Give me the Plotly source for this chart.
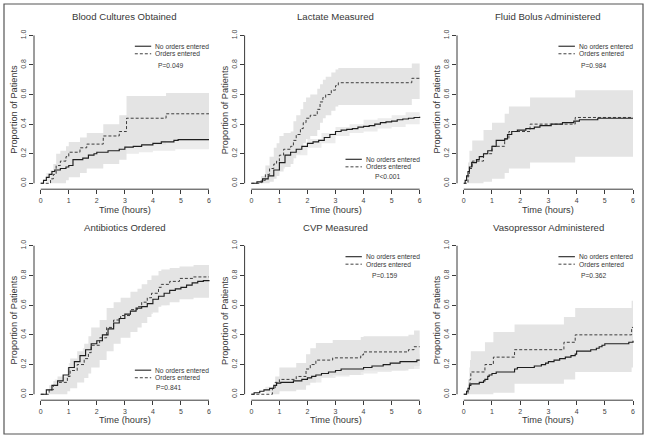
import plotly.graph_objects as go

# ---------------- data ----------------
titles = ["Blood Cultures Obtained", "Lactate Measured", "Fluid Bolus Administered",
          "Antibiotics Ordered", "CVP Measured", "Vasopressor Administered"]
p_values = ["P=0.049", "P<0.001", "P=0.984", "P=0.841", "P=0.159", "P=0.362"]
legend_pos = ["top", "bottom", "top", "bottom", "top", "top"]
x_ticks = [0, 1, 2, 3, 4, 5, 6]
y_ticks = [0.0, 0.2, 0.4, 0.6, 0.8, 1.0]
y_tick_labels = ["0.0", "0.2", "0.4", "0.6", "0.8", "1.0"]
series_names = ["No orders entered", "Orders entered"]

# Blood cultures
bc_t_no = [0, 0.1, 0.2, 0.3, 0.4, 0.5, 0.7, 0.9, 1.0, 1.15, 1.5, 1.7, 1.9, 2.0, 2.4, 2.8, 3.0, 3.3, 3.6, 4.0, 4.3, 4.75, 4.9, 6.0]
bc_y_no = [0, 0.02, 0.04, 0.06, 0.08, 0.09, 0.10, 0.11, 0.12, 0.16, 0.17, 0.19, 0.20, 0.21, 0.22, 0.23, 0.245, 0.25, 0.26, 0.27, 0.28, 0.29, 0.295, 0.295]
bc_t_or = [0, 0.3, 0.35, 0.45, 0.55, 0.7, 0.9, 1.0, 1.4, 1.64, 2.23, 2.8, 3.06, 4.47, 6.0]
bc_y_or = [0, 0, 0.03, 0.06, 0.12, 0.15, 0.18, 0.21, 0.24, 0.265, 0.32, 0.35, 0.44, 0.47, 0.47]
bc_or_hi = [0, 0, 0.09, 0.13, 0.20, 0.22, 0.25, 0.28, 0.31, 0.34, 0.40, 0.46, 0.59, 0.61, 0.61]
bc_or_lo = [0, 0, 0, 0, 0.0, 0.0, 0.02, 0.04, 0.07, 0.10, 0.13, 0.16, 0.26, 0.29, 0.29]
bc_band_no_t = [0, 0.2, 0.5, 1.0, 1.15, 1.5, 2.0, 2.5, 3.0, 3.5, 4.0, 4.8, 6.0]
bc_no_hi = [0, 0.07, 0.13, 0.16, 0.21, 0.22, 0.26, 0.27, 0.29, 0.30, 0.31, 0.34, 0.34]
bc_no_lo = [0, 0.01, 0.05, 0.07, 0.11, 0.12, 0.16, 0.18, 0.20, 0.21, 0.22, 0.23, 0.23]

# Lactate
lac_t_no = [0, 0.2, 0.4, 0.6, 0.8, 1.0, 1.2, 1.4, 1.6, 1.8, 2.0, 2.2, 2.4, 2.6, 2.8, 3.0, 3.2, 3.4, 3.6, 3.8, 4.0,
            4.2, 4.4, 4.6, 4.8, 5.0, 5.2, 5.4, 5.6, 5.8, 6.0]
lac_y_no = [0, 0.01, 0.03, 0.05, 0.09, 0.14, 0.19, 0.21, 0.23, 0.25, 0.27, 0.28, 0.29, 0.31, 0.33, 0.35, 0.36, 0.365,
            0.37, 0.38, 0.385, 0.39, 0.40, 0.41, 0.415, 0.42, 0.43, 0.435, 0.44, 0.445, 0.45]
lac_t_or = [0, 0.3, 0.35, 0.5, 0.65, 0.8, 0.9, 1.0, 1.15, 1.4, 1.5, 1.6, 1.75, 1.85, 1.95, 2.1, 2.35, 2.45, 2.55, 2.65, 2.85, 3.0, 3.1, 5.72, 6.0]
lac_y_or = [0, 0, 0.02, 0.06, 0.10, 0.13, 0.15, 0.19, 0.23, 0.25, 0.29, 0.33, 0.37, 0.41, 0.44, 0.46, 0.50, 0.55, 0.58, 0.60, 0.63, 0.66, 0.68, 0.71, 0.71]
lac_or_hi = [0, 0, 0.05, 0.12, 0.18, 0.24, 0.27, 0.32, 0.34, 0.35, 0.42, 0.46, 0.50, 0.55, 0.58, 0.60, 0.64, 0.67, 0.70, 0.72, 0.75, 0.77, 0.78, 0.81, 0.81]
lac_or_lo = [0, 0, 0, 0, 0.01, 0.03, 0.05, 0.08, 0.11, 0.13, 0.17, 0.20, 0.24, 0.27, 0.30, 0.32, 0.36, 0.41, 0.44, 0.46, 0.49, 0.52, 0.53, 0.57, 0.57]
lac_band_no_t = [0, 0.4, 0.6, 0.8, 1.0, 1.2, 1.5, 2.0, 2.5, 3.0, 3.5, 4.0, 4.5, 5.0, 5.5, 6.0]
lac_no_hi = [0, 0.05, 0.08, 0.12, 0.18, 0.22, 0.25, 0.30, 0.34, 0.38, 0.40, 0.43, 0.44, 0.46, 0.48, 0.49]
lac_no_lo = [0, 0.02, 0.03, 0.06, 0.10, 0.15, 0.19, 0.24, 0.27, 0.32, 0.34, 0.35, 0.37, 0.38, 0.40, 0.41]

# Fluid bolus
fb_t_no = [0, 0.05, 0.1, 0.15, 0.2, 0.28, 0.45, 0.55, 0.7, 0.85, 1.0, 1.15, 1.45, 1.55, 1.7, 1.9, 2.2, 2.5, 2.7, 3.1, 3.5, 3.9, 4.1, 4.75, 6.0]
fb_y_no = [0, 0.02, 0.05, 0.08, 0.11, 0.14, 0.16, 0.18, 0.20, 0.22, 0.25, 0.29, 0.30, 0.33, 0.35, 0.36, 0.37, 0.38, 0.39, 0.40, 0.41, 0.42, 0.43, 0.44, 0.44]
fb_t_or = [0, 0.1, 0.15, 0.2, 0.3, 0.7, 1.0, 1.45, 1.6, 2.35, 3.95, 6.0]
fb_y_or = [0, 0, 0.05, 0.10, 0.15, 0.20, 0.25, 0.30, 0.35, 0.40, 0.445, 0.445]
fb_or_hi = [0, 0, 0.14, 0.22, 0.29, 0.36, 0.41, 0.47, 0.52, 0.58, 0.63, 0.63]
fb_or_lo = [0, 0, 0, 0, 0, 0.01, 0.03, 0.07, 0.10, 0.14, 0.18, 0.18]
fb_band_no_t = [0, 0.1, 0.2, 0.3, 0.5, 0.7, 1.0, 1.2, 1.5, 2.0, 3.0, 4.0, 4.75, 6.0]
fb_no_hi = [0, 0.04, 0.14, 0.18, 0.21, 0.24, 0.29, 0.33, 0.36, 0.40, 0.44, 0.46, 0.48, 0.48]
fb_no_lo = [0, 0.005, 0.07, 0.10, 0.12, 0.15, 0.20, 0.25, 0.27, 0.32, 0.35, 0.37, 0.39, 0.39]

# Antibiotics
ab_t_no = [0, 0.2, 0.4, 0.6, 0.8, 1.0, 1.2, 1.4, 1.6, 1.8, 2.0, 2.2, 2.4, 2.6, 2.8, 3.0, 3.2, 3.4, 3.6, 3.8, 4.0,
           4.2, 4.4, 4.6, 4.8, 5.0, 5.2, 5.4, 5.6, 5.8, 6.0]
ab_y_no = [0, 0.03, 0.06, 0.09, 0.13, 0.18, 0.22, 0.26, 0.30, 0.34, 0.36, 0.40, 0.44, 0.48, 0.51, 0.54, 0.56, 0.58,
           0.59, 0.61, 0.64, 0.66, 0.68, 0.70, 0.71, 0.72, 0.735, 0.75, 0.76, 0.765, 0.77]
ab_t_or = [0, 0.15, 0.3, 0.45, 0.6, 0.95, 1.05, 1.3, 1.55, 1.7, 1.8, 2.1, 2.35, 2.6, 2.85, 3.2, 3.45, 3.6, 3.8, 3.95, 4.2, 4.3, 4.6, 4.95, 5.45, 6.0]
ab_y_or = [0, 0, 0.03, 0.06, 0.08, 0.12, 0.16, 0.20, 0.24, 0.28, 0.33, 0.38, 0.45, 0.50, 0.53, 0.57, 0.59, 0.62, 0.65, 0.68, 0.72, 0.74, 0.76, 0.78, 0.79, 0.79]
ab_or_hi = [0, 0, 0.06, 0.09, 0.12, 0.18, 0.24, 0.29, 0.34, 0.39, 0.45, 0.50, 0.58, 0.62, 0.65, 0.69, 0.71, 0.74, 0.77, 0.80, 0.83, 0.84, 0.85, 0.86, 0.87, 0.87]
ab_or_lo = [0, 0, 0, 0, 0, 0.02, 0.04, 0.08, 0.11, 0.14, 0.18, 0.23, 0.29, 0.34, 0.38, 0.42, 0.45, 0.48, 0.52, 0.55, 0.59, 0.60, 0.62, 0.64, 0.65, 0.65]
ab_band_no_t = [0, 0.5, 1.0, 1.5, 2.0, 2.5, 3.0, 3.5, 4.0, 4.5, 5.0, 5.5, 6.0]
ab_no_hi = [0, 0.10, 0.21, 0.31, 0.40, 0.50, 0.58, 0.62, 0.68, 0.73, 0.76, 0.80, 0.81]
ab_no_lo = [0, 0.06, 0.15, 0.25, 0.32, 0.42, 0.50, 0.54, 0.60, 0.65, 0.68, 0.72, 0.73]

# CVP
cvp_t_no = [0, 0.1, 0.3, 0.45, 0.65, 0.8, 0.9, 1.05, 1.5, 1.8, 2.0, 2.15, 2.3, 2.5, 2.75, 3.0, 3.2, 4.0, 4.3, 4.7, 4.95, 5.3, 5.9, 6.0]
cvp_y_no = [0, 0.01, 0.02, 0.03, 0.04, 0.06, 0.075, 0.08, 0.09, 0.10, 0.11, 0.12, 0.13, 0.14, 0.15, 0.16, 0.17, 0.18, 0.19, 0.20, 0.21, 0.22, 0.23, 0.23]
cvp_t_or = [0, 0.75, 0.85, 1.0, 1.6, 1.95, 2.1, 2.3, 2.9, 3.9, 4.0, 5.6, 5.8, 6.0]
cvp_y_or = [0, 0.04, 0.08, 0.10, 0.12, 0.17, 0.20, 0.23, 0.245, 0.265, 0.285, 0.30, 0.32, 0.32]
cvp_or_hi = [0, 0.05, 0.12, 0.18, 0.21, 0.27, 0.31, 0.345, 0.365, 0.385, 0.39, 0.40, 0.43, 0.43]
cvp_or_lo = [0, 0, 0, 0.02, 0.03, 0.06, 0.08, 0.12, 0.13, 0.15, 0.16, 0.17, 0.19, 0.19]
cvp_band_no_t = [0, 0.5, 1.0, 1.5, 2.0, 2.5, 3.0, 3.5, 4.0, 4.5, 5.0, 5.5, 6.0]
cvp_no_hi = [0, 0.05, 0.11, 0.12, 0.14, 0.18, 0.20, 0.21, 0.22, 0.24, 0.26, 0.27, 0.28]
cvp_no_lo = [0, 0.01, 0.05, 0.06, 0.08, 0.11, 0.12, 0.13, 0.14, 0.15, 0.16, 0.17, 0.18]

# Vasopressor
vp_t_no = [0, 0.1, 0.15, 0.2, 0.25, 0.55, 0.7, 0.75, 0.85, 0.9, 1.0, 1.15, 1.8, 1.9, 2.5, 2.75, 2.9, 3.0, 3.2, 3.4, 3.6,
           3.8, 3.95, 4.0, 4.5, 4.7, 4.8, 4.9, 5.0, 5.85, 6.0]
vp_y_no = [0, 0.02, 0.04, 0.06, 0.07, 0.08, 0.09, 0.10, 0.12, 0.13, 0.14, 0.15, 0.17, 0.18, 0.19, 0.20, 0.21, 0.22,
           0.23, 0.24, 0.25, 0.26, 0.27, 0.29, 0.30, 0.31, 0.32, 0.33, 0.34, 0.35, 0.36]
vp_t_or = [0, 0.1, 0.15, 0.2, 0.22, 0.25, 0.75, 1.05, 1.8, 3.55, 3.95, 5.95, 6.0]
vp_y_or = [0, 0, 0.03, 0.07, 0.10, 0.15, 0.20, 0.25, 0.30, 0.35, 0.40, 0.45, 0.45]
vp_or_hi = [0, 0, 0.10, 0.18, 0.23, 0.29, 0.35, 0.42, 0.47, 0.52, 0.58, 0.63, 0.63]
vp_or_lo = [0, 0, 0, 0, 0, 0, 0, 0.01, 0.07, 0.10, 0.15, 0.18, 0.18]
vp_band_no_t = [0, 0.25, 0.5, 1.0, 1.5, 2.0, 2.5, 3.0, 3.5, 4.0, 4.5, 5.0, 5.5, 6.0]
vp_no_hi = [0, 0.11, 0.12, 0.19, 0.20, 0.23, 0.24, 0.27, 0.30, 0.35, 0.36, 0.40, 0.40, 0.42]
vp_no_lo = [0, 0.03, 0.04, 0.09, 0.10, 0.13, 0.14, 0.17, 0.19, 0.23, 0.24, 0.28, 0.28, 0.30]

panels = [
    (bc_t_no, bc_y_no, bc_t_or, bc_y_or, bc_or_hi, bc_or_lo, bc_band_no_t, bc_no_hi, bc_no_lo),
    (lac_t_no, lac_y_no, lac_t_or, lac_y_or, lac_or_hi, lac_or_lo, lac_band_no_t, lac_no_hi, lac_no_lo),
    (fb_t_no, fb_y_no, fb_t_or, fb_y_or, fb_or_hi, fb_or_lo, fb_band_no_t, fb_no_hi, fb_no_lo),
    (ab_t_no, ab_y_no, ab_t_or, ab_y_or, ab_or_hi, ab_or_lo, ab_band_no_t, ab_no_hi, ab_no_lo),
    (cvp_t_no, cvp_y_no, cvp_t_or, cvp_y_or, cvp_or_hi, cvp_or_lo, cvp_band_no_t, cvp_no_hi, cvp_no_lo),
    (vp_t_no, vp_y_no, vp_t_or, vp_y_or, vp_or_hi, vp_or_lo, vp_band_no_t, vp_no_hi, vp_no_lo),
]
p_x = [0.753, 0.787, 0.747, 0.738, 0.769, 0.747]

# ---------------- layout geometry (pixels) ----------------
W, H = 647, 438
col_x = [(34.0, 215.7), (244.6, 426.4), (457.0, 639.8)]
row_y = [(29.5, 189.2), (239.8, 400.2)]
title_y = [16.0, 227.7]
xtitle_y = [210.0, 419.5]

FONT = "Liberation Sans, Arial, sans-serif"
AX = "#3a3a3a"
TXT = "#383838"
BAND_OR = "#e4e4e4"
BAND_NO = "#ececec"

fig = go.Figure()
layout = dict(width=W, height=H, margin=dict(l=0, r=0, t=0, b=0),
              paper_bgcolor="white", plot_bgcolor="white", showlegend=False,
              font=dict(family=FONT, color=TXT))
shapes = []
annotations = []


def step(x, y, xa, ya, **kw):
    line = kw.pop("line", {})
    line = dict(line, shape="hv")
    return go.Scatter(x=x, y=y, xaxis=xa, yaxis=ya, mode="lines", hoverinfo="skip", line=line, **kw)


for i, (t_no, y_no, t_or, y_or, or_hi, or_lo, tb_no, no_hi, no_lo) in enumerate(panels):
    n = i + 1
    r, c = divmod(i, 3)
    xa = "x" if n == 1 else f"x{n}"
    ya = "y" if n == 1 else f"y{n}"
    x0, x1 = col_x[c]
    y0, y1 = row_y[r]
    layout["xaxis" if n == 1 else f"xaxis{n}"] = dict(
        domain=[x0 / W, x1 / W], range=[-0.24, 6.24], anchor=ya,
        tickvals=x_ticks, ticks="outside", ticklen=4, tickwidth=1, tickcolor=AX,
        showgrid=False, zeroline=False, showline=False,
        tickfont=dict(size=7, color="#444444", family=FONT))
    layout["yaxis" if n == 1 else f"yaxis{n}"] = dict(
        domain=[1 - y1 / H, 1 - y0 / H], range=[-0.04, 1.04], anchor=xa,
        tickvals=y_ticks, ticktext=y_tick_labels, tickangle=-90,
        ticks="outside", ticklen=4, tickwidth=1, tickcolor=AX,
        showgrid=False, zeroline=False, showline=False,
        tickfont=dict(size=7, color="#444444", family=FONT))

    # no-orders band
    fig.add_trace(step(tb_no, no_lo, xa, ya, line=dict(width=0, color=BAND_NO)))
    fig.add_trace(step(tb_no, no_hi, xa, ya, fill="tonexty", fillcolor=BAND_NO, line=dict(width=0, color=BAND_NO)))
    # orders band
    fig.add_trace(step(t_or, or_lo, xa, ya, line=dict(width=0, color=BAND_OR)))
    fig.add_trace(step(t_or, or_hi, xa, ya, fill="tonexty", fillcolor=BAND_OR, line=dict(width=0, color=BAND_OR)))
    # curves
    fig.add_trace(step(t_no, y_no, xa, ya, name=series_names[0], line=dict(width=1.15, color="#1e1e1e")))
    fig.add_trace(step(t_or, y_or, xa, ya, name=series_names[1], line=dict(width=0.9, color="#2a2a2a", dash="3px,2px")))

    xd = f"{xa} domain"
    yd = f"{ya} domain"
    # R-style axis lines (from first to last tick)
    shapes.append(dict(type="line", xref=xa, yref=yd, x0=x_ticks[0], x1=x_ticks[-1], y0=0, y1=0,
                       line=dict(color=AX, width=1)))
    shapes.append(dict(type="line", xref=xd, yref=ya, x0=0, x1=0, y0=y_ticks[0], y1=y_ticks[-1],
                       line=dict(color=AX, width=1)))

    annotations.append(dict(text=titles[i], xref=xd, x=0.5, yref="paper", y=1 - title_y[r] / H,
                            showarrow=False, xanchor="center", yanchor="middle",
                            font=dict(size=9.6, color=TXT, family=FONT)))
    annotations.append(dict(text="Time (hours)", xref=xd, x=0.5, yref="paper", y=1 - xtitle_y[r] / H,
                            showarrow=False, xanchor="center", yanchor="middle",
                            font=dict(size=9.2, color=TXT, family=FONT)))
    annotations.append(dict(text="Proportion of Patients", xref=xd, x=-0.108, yref=yd, y=0.5,
                            textangle=-90, showarrow=False, xanchor="center", yanchor="middle",
                            font=dict(size=9.2, color=TXT, family=FONT)))

    if legend_pos[i] == "top":
        ly = [0.895, 0.848, 0.777]
    else:
        ly = [0.187, 0.140, 0.077]
    shapes.append(dict(type="line", xref=xd, yref=yd, x0=0.555, x1=0.645, y0=ly[0], y1=ly[0],
                       line=dict(color="#444444", width=1.3)))
    shapes.append(dict(type="line", xref=xd, yref=yd, x0=0.555, x1=0.645, y0=ly[1], y1=ly[1],
                       line=dict(color="#2a2a2a", width=0.9, dash="3px,2px")))
    for k, name in enumerate(series_names):
        annotations.append(dict(text=name, xref=xd, x=0.657, yref=yd, y=ly[k], showarrow=False,
                                xanchor="left", yanchor="middle",
                                font=dict(size=6.7, color=TXT, family=FONT)))
    annotations.append(dict(text=p_values[i], xref=xd, x=p_x[i], yref=yd, y=ly[2], showarrow=False,
                            xanchor="center", yanchor="middle",
                            font=dict(size=6.7, color=TXT, family=FONT)))

# outer frame
shapes.append(dict(type="rect", xref="paper", yref="paper", x0=4 / W, x1=643 / W, y0=1 - 434 / H, y1=1 - 4 / H,
                   line=dict(color="#555555", width=1.2)))

layout["shapes"] = shapes
layout["annotations"] = annotations
fig.update_layout(**layout)
fig.write_html("out.html", config={"displayModeBar": False, "staticPlot": True},
               post_script="document.body.style.margin='0';document.body.style.overflow='hidden';")
